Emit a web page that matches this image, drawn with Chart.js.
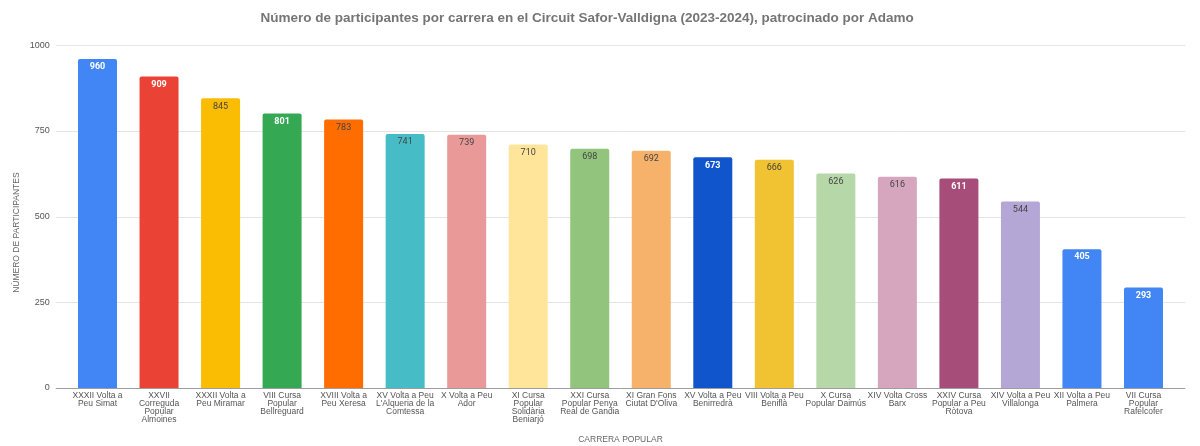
<!DOCTYPE html>
<html>
<head>
<meta charset="utf-8">
<script src="https://cdn.jsdelivr.net/npm/chart.js@4.4.1/dist/chart.umd.min.js"></script>
<style>
html,body{margin:0;padding:0;background:#fff;}
#wrap{width:1200px;height:446px;position:relative;}
</style>
</head>
<body>
<div id="wrap"><canvas id="c"></canvas></div>
<script>
const titleText = 'Número de participantes por carrera en el Circuit Safor-Valldigna (2023-2024), patrocinado por Adamo';
const xAxisTitle = 'CARRERA POPULAR';
const yAxisTitle = 'NÚMERO DE PARTICIPANTES';
const categories = [
  ['XXXII Volta a', 'Peu Simat'],
  ['XXVII', 'Correguda', 'Popular', 'Almoines'],
  ['XXXII Volta a', 'Peu Miramar'],
  ['VIII Cursa', 'Popular', 'Bellreguard'],
  ['XVIII Volta a', 'Peu Xeresa'],
  ['XV Volta a Peu', "L'Alqueria de la", 'Comtessa'],
  ['X Volta a Peu', 'Ador'],
  ['XI Cursa', 'Popular', 'Solidària', 'Beniarjó'],
  ['XXI Cursa', 'Popular Penya', 'Real de Gandia'],
  ['XI Gran Fons', "Ciutat D'Oliva"],
  ['XV Volta a Peu', 'Benirredrà'],
  ['VIII Volta a Peu', 'Beniflà'],
  ['X Cursa', 'Popular Daimús'],
  ['XIV Volta Cross', 'Barx'],
  ['XXIV Cursa', 'Popular a Peu', 'Ròtova'],
  ['XIV Volta a Peu', 'Villalonga'],
  ['XII Volta a Peu', 'Palmera'],
  ['VII Cursa', 'Popular', 'Rafelcofer']
];
const participants = [960, 909, 845, 801, 783, 741, 739, 710, 698, 692, 673, 666, 626, 616, 611, 544, 405, 293];
const yTicks = [0, 250, 500, 750, 1000];
const barColors = ['#4285F4','#EA4335','#FBBC04','#34A853','#FF6D01','#46BDC6','#EA9999','#FFE599','#93C47D','#F6B26B','#1155CC','#F1C232','#B6D7A8','#D5A6BD','#A64D79','#B4A7D6','#4285F4','#4285F4'];
const labelColors = ['#ffffff','#ffffff','#444444','#ffffff','#444444','#444444','#444444','#444444','#444444','#444444','#ffffff','#444444','#444444','#444444','#ffffff','#444444','#ffffff','#ffffff'];

const gridPlugin = {
  id: 'extGrid',
  beforeDatasetsDraw(chart) {
    const ctx = chart.ctx, y = chart.scales.y, a = chart.chartArea;
    ctx.save();
    yTicks.forEach(v => {
      const py = Math.round(y.getPixelForValue(v)) + 0.5;
      ctx.beginPath();
      ctx.strokeStyle = v === 0 ? '#9e9e9e' : '#e4e4e4';
      ctx.lineWidth = 1;
      ctx.moveTo(a.left - 11, py);
      ctx.lineTo(a.right + 11, py);
      ctx.stroke();
    });
    // y-axis title, positioned as in the reference (slightly below chart-area centre)
    ctx.translate(17, (a.top + a.bottom) / 2 + 16);
    ctx.rotate(-Math.PI / 2);
    ctx.textAlign = 'center';
    ctx.textBaseline = 'middle';
    ctx.fillStyle = '#666666';
    ctx.font = '8.5px "Liberation Sans", Arial, sans-serif';
    ctx.fillText(yAxisTitle, 0, 0);
    ctx.restore();
  }
};
const labelPlugin = {
  id: 'barLabels',
  afterDatasetsDraw(chart) {
    const ctx = chart.ctx;
    const meta = chart.getDatasetMeta(0);
    ctx.save();
    ctx.textAlign = 'center';
    ctx.textBaseline = 'middle';
    meta.data.forEach((bar, i) => {
      const white = labelColors[i] === '#ffffff';
      ctx.font = (white ? 'bold ' : '') + '9px Roboto, "Liberation Sans", Arial, sans-serif';
      ctx.fillStyle = labelColors[i];
      ctx.fillText(String(participants[i]), bar.x, bar.y + 8);
    });
    ctx.restore();
  }
};

new Chart(document.getElementById('c'), {
  type: 'bar',
  data: {
    labels: categories,
    datasets: [{
      data: participants,
      backgroundColor: barColors,
      borderColor: barColors,
      borderWidth: 0,
      borderRadius: 2,
      borderSkipped: 'bottom',
      barPercentage: 0.634,
      categoryPercentage: 1.0
    }]
  },
  options: {
    responsive: true,
    maintainAspectRatio: false,
    animation: false,
    devicePixelRatio: 1,
    layout: { padding: { left: 0, right: 25.75, top: 0, bottom: 0 } },
    plugins: {
      legend: { display: false },
      tooltip: { enabled: false },
      title: {
        display: true,
        text: titleText,
        color: '#757575',
        font: { family: '"Liberation Sans", Arial, sans-serif', size: 13.5, weight: 'bold' },
        padding: { top: 10, bottom: 19 }
      }
    },
    scales: {
      x: {
        grid: { display: false, drawTicks: false },
        border: { display: false },
        ticks: {
          color: '#555555',
          font: { family: '"Liberation Sans", Arial, sans-serif', size: 8.5, lineHeight: 0.94 },
          maxRotation: 0, minRotation: 0, autoSkip: false, padding: 4
        },
        title: {
          display: true, text: xAxisTitle, color: '#666666',
          font: { family: '"Liberation Sans", Arial, sans-serif', size: 8.5 },
          padding: { top: 0, bottom: 1 }
        },
        afterFit(s) { s.height = 58; }
      },
      y: {
        min: 0, max: 1000,
        grid: { display: false, drawTicks: false },
        border: { display: false },
        afterBuildTicks(s) { s.ticks = yTicks.map(v => ({ value: v })); },
        ticks: {
          color: '#555555',
          font: { family: '"Liberation Sans", Arial, sans-serif', size: 9 },
          padding: 17,
          callback: (v) => String(v)
        },
        title: { display: false },
        afterFit(s) { s.width = 66.75; }
      }
    }
  },
  plugins: [gridPlugin, labelPlugin]
});
</script>
</body>
</html>
